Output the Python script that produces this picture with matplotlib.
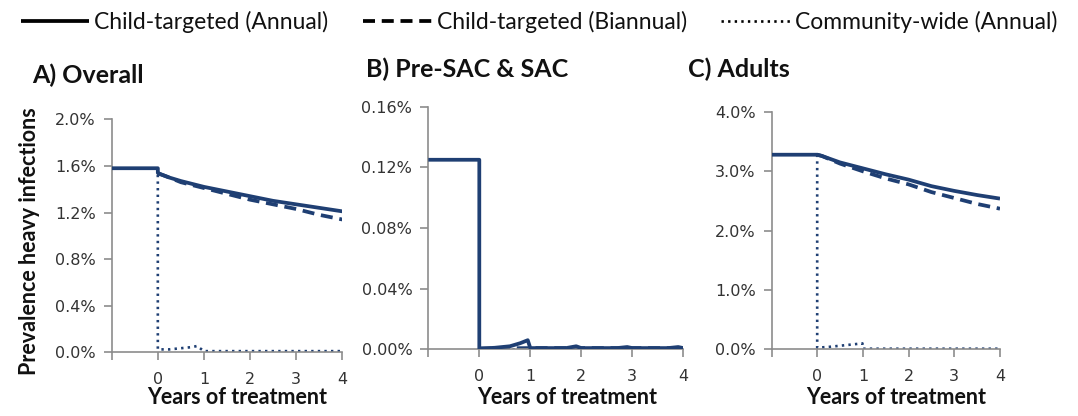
import matplotlib
matplotlib.use("Agg")
import matplotlib.pyplot as plt
from matplotlib.ticker import FuncFormatter, FixedLocator

# ---------------- data (prevalence in %) ----------------
series_names = ["Child-targeted (Annual)", "Child-targeted (Biannual)", "Community-wide (Annual)"]
panel_titles = ["A) Overall", "B) Pre-SAC & SAC", "C) Adults"]
x_tick_labels = ["0", "1", "2", "3", "4"]

# Panel A: Overall
a_annual_x = [-1, 0, 0, 0.05, 0.25, 0.5, 0.8, 1.0, 1.5, 2.0, 2.5, 3.0, 3.5, 4.0]
a_annual_y = [1.58, 1.58, 1.54, 1.53, 1.50, 1.47, 1.44, 1.42, 1.38, 1.34, 1.30, 1.27, 1.24, 1.21]
a_bi_x = [0, 0.05, 0.25, 0.5, 0.8, 1.0, 1.5, 2.0, 2.5, 3.0, 3.5, 4.0]
a_bi_y = [1.54, 1.53, 1.50, 1.46, 1.43, 1.41, 1.36, 1.31, 1.27, 1.23, 1.18, 1.14]
a_cw_x = [0, 0, 0.25, 0.5, 0.75, 0.85, 1.0, 4.0]
a_cw_y = [1.58, 0.025, 0.025, 0.035, 0.045, 0.054, 0.01, 0.01]

# Panel B: Pre-SAC & SAC
b_annual_x = [-1, 0, 0, 0.3, 0.6, 0.8, 0.95, 1.0, 1.7, 1.9, 2.0, 2.7, 2.9, 3.0, 3.7, 3.9, 4.0]
b_annual_y = [0.125, 0.125, 0.0005, 0.001, 0.002, 0.004, 0.006, 0.0008, 0.0008, 0.002, 0.0008,
              0.0008, 0.0015, 0.0008, 0.0008, 0.0015, 0.0008]
b_bi_x = [0, 1.0, 2.0, 3.0, 4.0]
b_bi_y = [0.0005, 0.0008, 0.0008, 0.0008, 0.0008]
b_cw_x = [0, 1.0, 2.0, 3.0, 4.0]
b_cw_y = [0.0005, 0.0005, 0.0005, 0.0005, 0.0005]

# Panel C: Adults
c_annual_x = [-1, 0, 0.1, 0.5, 1.0, 1.5, 2.0, 2.5, 3.0, 3.5, 4.0]
c_annual_y = [3.28, 3.28, 3.26, 3.15, 3.05, 2.95, 2.86, 2.75, 2.67, 2.60, 2.54]
c_bi_x = [0, 0.1, 0.5, 1.0, 1.5, 2.0, 2.5, 3.0, 3.5, 4.0]
c_bi_y = [3.28, 3.26, 3.13, 3.00, 2.88, 2.78, 2.65, 2.55, 2.45, 2.37]
c_cw_x = [0, 0, 0.25, 0.5, 0.75, 0.99, 1.0, 4.0]
c_cw_y = [3.28, 0.027, 0.04, 0.06, 0.08, 0.10, 0.01, 0.01]

y_ticks_a = [0, 0.4, 0.8, 1.2, 1.6, 2.0]
y_ticks_b = [0, 0.04, 0.08, 0.12, 0.16]
y_ticks_c = [0, 1.0, 2.0, 3.0, 4.0]

# ---------------- style ----------------
LINE = "#1F3F73"
SPINE = "#8C8C8C"
TICKTXT = "#333333"
TXT = "#111111"
TITLEFONT = "Lato"

fig = plt.figure(figsize=(10.78, 4.16), dpi=100)
W, H = 1078.0, 416.0

rects = [(111.7, 342.3, 119.3, 352.3), (428.3, 683.3, 106.7, 349.3), (771.5, 1000.0, 112.0, 349.3)]
axes = [fig.add_axes([l / W, 1 - b / H, (r - l) / W, (b - t) / H]) for (l, r, t, b) in rects]

panels = [
    (a_annual_x, a_annual_y, a_bi_x, a_bi_y, a_cw_x, a_cw_y, y_ticks_a, 1),
    (b_annual_x, b_annual_y, b_bi_x, b_bi_y, b_cw_x, b_cw_y, y_ticks_b, 2),
    (c_annual_x, c_annual_y, c_bi_x, c_bi_y, c_cw_x, c_cw_y, y_ticks_c, 1),
]

handles = []
for i, (ax, p, rc) in enumerate(zip(axes, panels, rects)):
    ax_x, ax_y, bx, by, cx, cy, yt, dec = p
    h1, = ax.plot(ax_x, ax_y, color=LINE, lw=2.7, solid_capstyle="butt", zorder=3)
    h2, = ax.plot(bx, by, color=LINE, lw=2.7, ls=(0, (3.2, 1.8)), zorder=2)
    h3, = ax.plot(cx, cy, color=LINE, lw=1.9, ls=(0, (0.9, 1.6)), zorder=2)
    if i == 0:
        handles = [h1, h2, h3]
    ax.set_xlim(-1, 4)
    ax.set_ylim(yt[0], yt[-1])
    ax.xaxis.set_major_locator(FixedLocator([-1, 0, 1, 2, 3, 4]))
    ax.set_xticklabels([""] + x_tick_labels)
    ax.yaxis.set_major_locator(FixedLocator(yt))
    ax.yaxis.set_major_formatter(FuncFormatter(lambda v, pos, d=dec: f"{v:.{d}f}%"))
    for s in ["top", "right"]:
        ax.spines[s].set_visible(False)
    for s in ["left", "bottom"]:
        ax.spines[s].set_color(SPINE)
        ax.spines[s].set_linewidth(1.2)
    ax.tick_params(axis="both", colors=SPINE, width=1.2, length=5.5, direction="out")
    ax.tick_params(axis="y", labelcolor=TICKTXT, labelsize=11.5, pad=6)
    ax.tick_params(axis="x", labelcolor=TICKTXT, labelsize=11.5, pad=9)
    ax.set_xlabel("Years of treatment", fontsize=15.5, fontweight="bold",
                  family=TITLEFONT, color=TXT)
    ax.xaxis.label.set_va("center")
    l, r, t, b = rc
    ax.xaxis.set_label_coords(0.545, -(397 - b) / (b - t))
    ax.patch.set_alpha(0)

# panel titles
title_pos = [(32, 75.5), (366, 69), (688, 69)]
for (tx, ty), tt in zip(title_pos, panel_titles):
    fig.text(tx / W, 1 - ty / H, tt, fontsize=18, fontweight="bold",
             family=TITLEFONT, va="center", ha="left", color=TXT)

# y label
fig.text(30 / W, 1 - 241 / H, "Prevalence heavy infections", rotation=90,
         fontsize=15.5, fontweight="bold", family=TITLEFONT, va="center", ha="center",
         color=TXT)

leg = fig.legend(handles, series_names, loc="center", bbox_to_anchor=(0.5, 1 - 22 / H),
                 ncol=3, frameon=False, prop={"family": TITLEFONT, "size": 16.5},
                 handlelength=3.0, handletextpad=0.22, columnspacing=1.5)
for ln in leg.get_lines():
    ln.set_color("black")
for t in leg.get_texts():
    t.set_color(TXT)

fig.savefig("out.png", dpi=100)
